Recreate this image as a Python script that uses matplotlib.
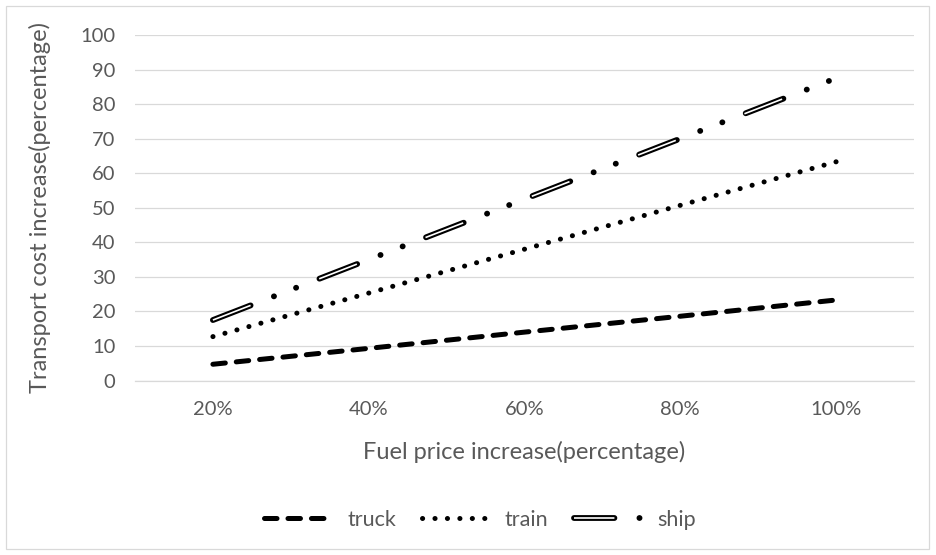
import matplotlib.pyplot as plt
from matplotlib.lines import Line2D
from matplotlib.patches import Rectangle

plt.rcParams['font.family'] = ['Lato', 'DejaVu Sans']
plt.rcParams['lines.scale_dashes'] = False

# fuel price increase steps and resulting transport cost increase (%)
categories = ['20%', '40%', '60%', '80%', '100%']
truck = [4.7, 9.3, 14.0, 18.6, 23.3]
train = [12.7, 25.3, 38.0, 50.7, 63.3]
ship = [17.5, 35.0, 52.5, 70.0, 87.5]
y_ticks = list(range(0, 101, 10))

TEXT = '#595959'
GRID = '#D9D9D9'

fig = plt.figure(figsize=(9.36, 5.55), dpi=100)
W, H = 936, 555
ax = fig.add_axes([135 / W, 1 - 380.5 / H, 779 / W, 345.5 / H])

x = list(range(len(categories)))

truck_style = dict(color='black', lw=3.6, dashes=(9.0, 7.9),
                   dash_capstyle='round', solid_capstyle='round')
train_style = dict(color='black', lw=3.6, dashes=(0.1, 8.86),
                   dash_capstyle='round')
ship_outer = dict(color='black', lw=4.2,
                  dashes=(29.1, 18.0, 0.1, 17.0, 0.1, 18.0),
                  dash_capstyle='round')
ship_inner = dict(color='white', lw=1.2, dashes=(29.1, 53.0),
                  dash_capstyle='butt')

ax.plot(x, truck, **truck_style, zorder=3)
ax.plot(x, train, **train_style, zorder=3)
ax.plot(x, ship, **ship_outer, zorder=3)
ax.plot(x, ship, **ship_inner, zorder=4)

ax.set_xlim(-0.5, len(categories) - 0.5)
ax.set_ylim(0, 100)
ax.set_xticks(x)
ax.set_xticklabels(categories)
ax.set_yticks(y_ticks)

ax.grid(axis='y', color=GRID, lw=0.9)
ax.set_axisbelow(True)
for side in ['top', 'left', 'right']:
    ax.spines[side].set_visible(False)
ax.spines['bottom'].set_color(GRID)
ax.spines['bottom'].set_linewidth(0.9)
ax.tick_params(axis='both', length=0, labelsize=14.5, colors=TEXT)
ax.tick_params(axis='x', pad=15)
ax.tick_params(axis='y', pad=14)

ax.set_xlabel('Fuel price increase(percentage)', fontsize=17, color=TEXT)
ax.xaxis.set_label_coords(0.5, (380.5 - 452) / 345.5)
ax.xaxis.label.set_va('center')
ax.set_ylabel('Transport cost increase(percentage)', fontsize=17, color=TEXT)
ax.yaxis.set_label_coords((40 - 135) / 779, 0.5)
ax.yaxis.label.set_va('center')

handles = [
    Line2D([], [], **truck_style),
    Line2D([], [], **train_style),
    (Line2D([], [], **ship_outer), Line2D([], [], **ship_inner)),
]
fig.legend(handles, ['truck', 'train', 'ship'], loc='center',
           bbox_to_anchor=(480 / W, 1 - 520 / H), ncol=3, frameon=False,
           fontsize=15.5, labelcolor=TEXT, handlelength=3.2,
           handletextpad=0.65, columnspacing=1.2)

# chart area border
fig.patches.append(Rectangle((6 / W, 6 / H), 923 / W, 543 / H,
                             transform=fig.transFigure, fill=False,
                             edgecolor=GRID, lw=0.9))

fig.savefig('out.png', dpi=100)
